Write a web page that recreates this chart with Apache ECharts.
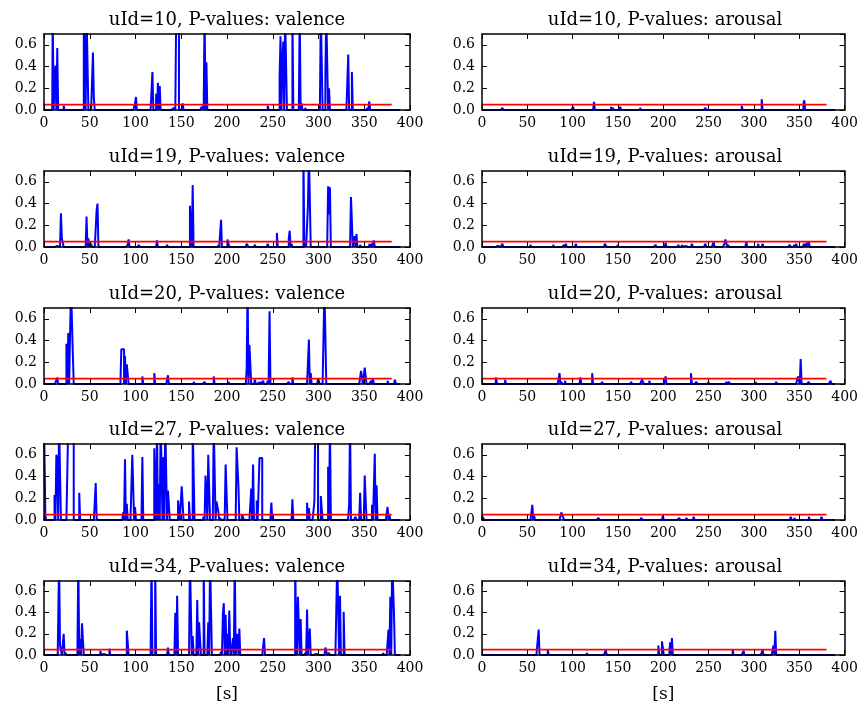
<!DOCTYPE html>
<html>
<head>
<meta charset="utf-8">
<script src="https://cdn.jsdelivr.net/npm/echarts@6/dist/echarts.min.js"></script>
<style>
  html, body { margin: 0; padding: 0; background: #fff; }
  #chart { width: 861px; height: 704px; }
</style>
</head>
<body>
<div id="chart"></div>
<script>
// P-values per second, only the non-zero samples; 0.9 = above the 0.7 clip
const users = ['10', '19', '20', '27', '34'];
const xTicks = [0, 50, 100, 150, 200, 250, 300, 350, 400];
const yTicks = [0.0, 0.2, 0.4, 0.6];
const tEnd = 390;
const threshold = 0.05;
const thresholdSpan = [0, 380];

const valence10 = [[10,0.9],[13,0.41],[15,0.57],[22,0.04],[44,0.9],[45,0.9],[47,0.9],[48,0.9],[54,0.53],[55,0.11],
  [100,0.06],[101,0.12],[119,0.35],[123,0.15],[125,0.25],[127,0.22],[142,0.02],[143,0.02],[145,0.9],[146,0.9],[147,0.9],
  [152,0.06],[173,0.03],[174,0.04],[176,0.9],[178,0.44],[245,0.04],[258,0.31],[259,0.68],[261,0.43],[262,0.63],[264,0.9],
  [265,0.9],[272,0.9],[280,0.9],[282,0.06],[286,0.02],[303,0.9],[304,0.9],[308,0.3],[309,0.9],[310,0.9],[312,0.2],
  [333,0.51],[337,0.35],[354,0.02],[356,0.08]];
const arousal10 = [[23,0.02],[101,0.03],[124,0.075],[143,0.03],[145,0.02],[153,0.03],[175,0.02],[247,0.02],
  [287,0.04],[309,0.1],[355,0.05],[356,0.09]];
const valence19 = [[14,0.01],[19,0.31],[20,0.08],[21,0.07],[47,0.28],[49,0.08],[52,0.03],[58,0.34],[59,0.4],
  [92,0.02],[93,0.07],[104,0.02],[121,0.01],[124,0.06],[135,0.02],[148,0.01],[160,0.38],[161,0.38],[163,0.57],
  [189,0.01],[191,0.02],[194,0.25],[201,0.07],[202,0.07],[215,0.01],[222,0.03],[223,0.03],[231,0.02],[245,0.03],
  [255,0.13],[260,0.01],[268,0.08],[269,0.15],[271,0.03],[284,0.9],[286,0.06],[289,0.39],[290,0.9],[291,0.9],
  [311,0.56],[312,0.3],[313,0.55],[336,0.46],[337,0.46],[340,0.1],[342,0.12],[346,0.02],[350,0.01],[356,0.03],
  [358,0.03],[361,0.06]];
const arousal19 = [[17,0.01],[23,0.03],[54,0.02],[79,0.02],[91,0.02],[93,0.03],[104,0.03],[121,0.01],[136,0.03],
  [137,0.02],[150,0.02],[192,0.02],[203,0.04],[217,0.02],[221,0.02],[224,0.01],[232,0.03],[247,0.03],[254,0.01],
  [256,0.05],[268,0.03],[269,0.07],[270,0.04],[272,0.02],[285,0.01],[292,0.05],[305,0.03],[310,0.03],[340,0.02],
  [345,0.02],[347,0.03],[356,0.03],[359,0.04],[361,0.05]];
const valence20 = [[15,0.06],[25,0.37],[27,0.47],[30,0.9],[31,0.9],[32,0.28],[85,0.32],[86,0.32],[87,0.32],
  [89,0.26],[91,0.18],[92,0.18],[108,0.07],[110,0.01],[121,0.1],[131,0.01],[136,0.08],[164,0.02],[169,0.01],
  [176,0.02],[186,0.07],[202,0.02],[222,0.14],[223,0.9],[225,0.36],[226,0.36],[231,0.04],[235,0.02],[237,0.02],
  [240,0.03],[245,0.03],[247,0.67],[268,0.02],[272,0.06],[290,0.41],[292,0.1],[300,0.05],[301,0.05],[307,0.9],
  [308,0.9],[347,0.12],[348,0.13],[351,0.15],[352,0.15],[358,0.03],[360,0.05],[376,0.03],[384,0.04]];
const arousal20 = [[16,0.06],[26,0.04],[86,0.1],[88,0.02],[92,0.03],[109,0.06],[111,0.01],[122,0.1],[133,0.02],
  [165,0.02],[170,0.01],[177,0.04],[178,0.04],[185,0.03],[203,0.07],[231,0.1],[237,0.02],[250,0.02],[270,0.02],
  [273,0.02],[302,0.02],[325,0.02],[349,0.07],[350,0.07],[352,0.23],[361,0.02],[378,0.01],[385,0.03]];
const valence27 = [[0,0.9],[1,0.9],[2,0.04],[12,0.23],[14,0.6],[15,0.57],[17,0.9],[18,0.9],[27,0.9],[28,0.9],
  [29,0.9],[30,0.9],[31,0.9],[32,0.9],[39,0.25],[57,0.34],[58,0.02],[87,0.07],[89,0.56],[91,0.15],[97,0.6],[98,0.61],
  [100,0.12],[108,0.58],[121,0.66],[122,0.67],[124,0.9],[126,0.33],[128,0.9],[129,0.9],[131,0.58],[133,0.9],[134,0.9],
  [136,0.27],[137,0.27],[147,0.18],[148,0.18],[151,0.31],[152,0.3],[159,0.17],[163,0.9],[164,0.9],[175,0.03],
  [177,0.41],[178,0.22],[180,0.6],[181,0.6],[186,0.9],[187,0.9],[189,0.17],[190,0.17],[191,0.08],[193,0.02],
  [198,0.02],[199,0.51],[200,0.51],[211,0.67],[212,0.67],[213,0.31],[217,0.05],[218,0.05],[225,0.01],[227,0.29],
  [229,0.51],[233,0.18],[236,0.57],[237,0.57],[238,0.57],[248,0.02],[249,0.16],[272,0.19],[288,0.16],[290,0.11],
  [296,0.17],[297,0.9],[298,0.9],[299,0.9],[303,0.22],[304,0.22],[311,0.49],[313,0.9],[333,0.02],[334,0.15],
  [335,0.9],[341,0.03],[346,0.25],[351,0.41],[352,0.41],[359,0.14],[362,0.61],[364,0.32],[376,0.12],[378,0.05]];
const arousal27 = [[1,0.03],[2,0.03],[16,0.01],[56,0.14],[58,0.04],[68,0.01],[88,0.07],[89,0.05],[90,0.05],
  [129,0.02],[176,0.02],[177,0.03],[200,0.04],[218,0.02],[226,0.02],[234,0.03],[250,0.01],[287,0.01],[341,0.03],
  [345,0.02],[361,0.03],[375,0.03]];
const valence34 = [[17,0.9],[18,0.09],[19,0.09],[22,0.2],[24,0.02],[38,0.9],[40,0.15],[42,0.3],[43,0.3],[62,0.04],
  [65,0.01],[72,0.06],[91,0.23],[92,0.22],[118,0.9],[122,0.9],[136,0.07],[144,0.4],[146,0.56],[160,0.9],[161,0.9],
  [163,0.18],[168,0.52],[170,0.31],[171,0.31],[175,0.9],[180,0.31],[182,0.9],[183,0.9],[194,0.03],[196,0.39],
  [197,0.49],[199,0.38],[201,0.2],[203,0.42],[204,0.06],[207,0.16],[209,0.9],[212,0.2],[214,0.25],[241,0.16],
  [275,0.9],[276,0.24],[278,0.55],[279,0.55],[281,0.34],[286,0.02],[288,0.43],[291,0.25],[297,0.01],[308,0.07],
  [309,0.07],[312,0.02],[321,0.9],[322,0.9],[324,0.56],[328,0.41],[371,0.02],[377,0.24],[379,0.55],[381,0.9],
  [382,0.9],[383,0.39]];
const arousal34 = [[63,0.24],[73,0.05],[116,0.02],[137,0.05],[195,0.09],[197,0.01],[199,0.13],[200,0.13],
  [208,0.12],[210,0.16],[277,0.05],[284,0.01],[289,0.04],[310,0.05],[322,0.09],[324,0.23]];

const panels = [
  { user: users[0], kind: 'valence', spikes: valence10 }, { user: users[0], kind: 'arousal', spikes: arousal10 },
  { user: users[1], kind: 'valence', spikes: valence19 }, { user: users[1], kind: 'arousal', spikes: arousal19 },
  { user: users[2], kind: 'valence', spikes: valence20 }, { user: users[2], kind: 'arousal', spikes: arousal20 },
  { user: users[3], kind: 'valence', spikes: valence27 }, { user: users[3], kind: 'arousal', spikes: arousal27 },
  { user: users[4], kind: 'valence', spikes: valence34 }, { user: users[4], kind: 'arousal', spikes: arousal34 }
];

// layout (pixels)
const colLeft = [44, 482];
const gridW = 366;
const rowTop = [34, 171, 308, 444, 581];
const gridH = 76;
const font = 'DejaVu Serif';

function fullSeries(spikes) {
  const m = new Map(spikes);
  const out = [];
  for (let t = 0; t <= tEnd; t++) out.push([t, m.has(t) ? m.get(t) : 0]);
  return out;
}

const grid = [], xAxis = [], yAxis = [], series = [], title = [];
const tick = { show: true, inside: true, length: 5, lineStyle: { color: '#000', width: 1 } };
const frame = { show: true, onZero: false, lineStyle: { color: '#000', width: 1.5 } };

panels.forEach((p, i) => {
  const row = Math.floor(i / 2), col = i % 2;
  const left = colLeft[col], top = rowTop[row];
  grid.push({ left: left, top: top, width: gridW, height: gridH });
  title.push({
    text: 'uId=' + p.user + ', P-values: ' + p.kind,
    left: left + gridW / 2, top: top - 23, textAlign: 'center', padding: 0,
    textStyle: { fontFamily: font, fontSize: 18, fontWeight: 'normal', color: '#000' }
  });
  const last = row === rowTop.length - 1;
  xAxis.push({
    type: 'value', gridIndex: i, min: 0, max: 400, interval: 50, z: 5,
    axisLine: frame, axisTick: tick, splitLine: { show: false },
    axisLabel: { color: '#000', fontFamily: font, fontSize: 14, margin: 6 },
    name: last ? '[s]' : '', nameLocation: 'middle', nameGap: 31,
    nameTextStyle: { fontFamily: font, fontSize: 17, color: '#000' }
  });
  xAxis.push({
    type: 'value', gridIndex: i, position: 'top', min: 0, max: 400, interval: 50, z: 5,
    axisLine: frame, axisTick: tick, axisLabel: { show: false }, splitLine: { show: false }
  });
  yAxis.push({
    type: 'value', gridIndex: i, min: 0, max: 0.7, interval: 0.2, z: 5,
    axisLine: frame, axisTick: tick, splitLine: { show: false },
    axisLabel: {
      color: '#000', fontFamily: font, fontSize: 14, margin: 7, showMaxLabel: false,
      formatter: v => yTicks.some(y => Math.abs(y - v) < 1e-6) ? v.toFixed(1) : ''
    }
  });
  yAxis.push({
    type: 'value', gridIndex: i, position: 'right', min: 0, max: 0.7, interval: 0.2, z: 5,
    axisLine: frame, axisTick: tick, axisLabel: { show: false }, splitLine: { show: false }
  });
  series.push({
    type: 'line', xAxisIndex: 2 * i, yAxisIndex: 2 * i, data: fullSeries(p.spikes),
    step: 'middle', showSymbol: false, clip: true, animation: false,
    lineStyle: { color: '#0000ff', width: 2 }
  });
  series.push({
    type: 'line', xAxisIndex: 2 * i, yAxisIndex: 2 * i,
    data: thresholdSpan.map(x => [x, threshold]),
    showSymbol: false, clip: true, animation: false,
    lineStyle: { color: '#ff0000', width: 1.7 }
  });
});

const chart = echarts.init(document.getElementById('chart'));
chart.setOption({
  backgroundColor: '#fff',
  animation: false,
  title: title,
  grid: grid,
  xAxis: xAxis,
  yAxis: yAxis,
  series: series
});
</script>
</body>
</html>
